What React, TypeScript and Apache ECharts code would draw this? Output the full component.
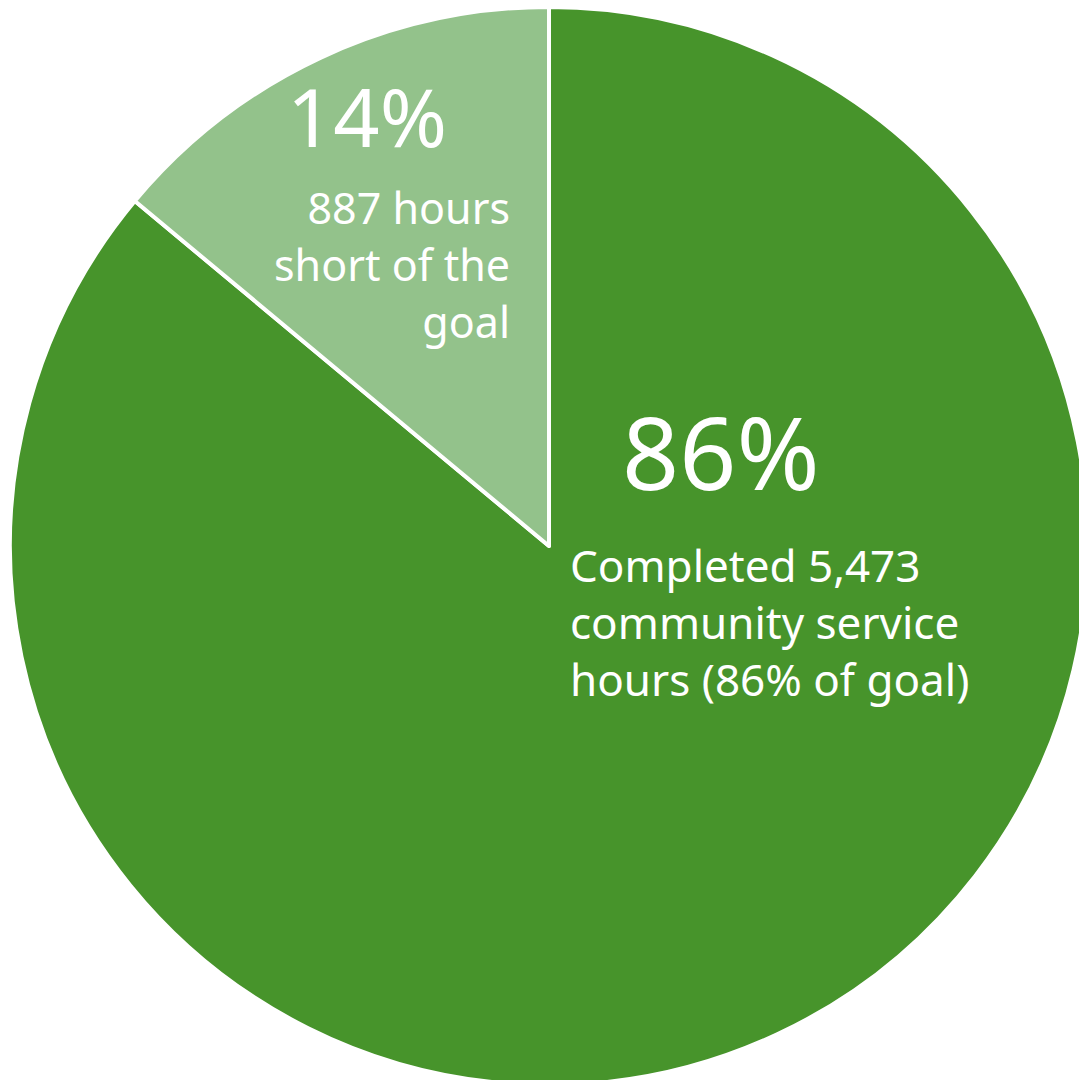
import React, { useEffect, useRef } from "react";
import * as echarts from "echarts";

const categories = ["Completed", "Short of goal"];
const hoursValues = [5473, 887];
const sliceColors = ["#47942B", "#93C28B"];

export default function App() {
  const ref = useRef<HTMLDivElement>(null);
  useEffect(() => {
    document.body.style.margin = "0";
    const chart = echarts.init(ref.current!, undefined, { renderer: "svg" });
    const total = hoursValues[0] + hoursValues[1];
    const pct = hoursValues.map((v) => Math.round((v / total) * 100));
    const fmt = (n: number) => n.toLocaleString("en-US");
    const font = "'Noto Sans', sans-serif";
    chart.setOption({
      animation: false,
      backgroundColor: "#ffffff",
      series: [
        {
          type: "pie",
          center: [549, 546],
          radius: [0, 539],
          startAngle: 90,
          clockwise: true,
          silent: true,
          z: 1,
          label: { show: false },
          labelLine: { show: false },
          itemStyle: { borderColor: "#ffffff", borderWidth: 4 },
          data: categories.map((c, i) => ({
            name: c,
            value: hoursValues[i],
            itemStyle: { color: sliceColors[i] },
          })),
        },
      ],
      graphic: {
        elements: [
          {
            type: "text",
            z: 100,
            x: 287,
            y: 75,
            style: {
              text: `${pct[1]}%`,
              fill: "#ffffff",
              font: `81px ${font}`,
              verticalAlign: "top",
            },
          },
          {
            type: "text",
            z: 100,
            x: 510,
            y: 179,
            style: {
              text: `${fmt(hoursValues[1])} hours\nshort of the\ngoal`,
              fill: "#ffffff",
              font: `43px ${font}`,
              lineHeight: 57,
              align: "right",
              verticalAlign: "top",
            },
          },
          {
            type: "text",
            z: 100,
            x: 622,
            y: 401,
            style: {
              text: `${pct[0]}%`,
              fill: "#ffffff",
              font: `100px ${font}`,
              verticalAlign: "top",
            },
          },
          {
            type: "text",
            z: 100,
            x: 570,
            y: 536,
            style: {
              text: `Completed ${fmt(hoursValues[0])}\ncommunity service\nhours (${pct[0]}% of goal)`,
              fill: "#ffffff",
              font: `44px ${font}`,
              lineHeight: 57,
              align: "left",
              verticalAlign: "top",
            },
          },
        ],
      },
    });
    return () => chart.dispose();
  }, []);
  return (
    <div
      ref={ref}
      style={{ position: "absolute", left: 0, top: 0, width: 1079, height: 1080 }}
    />
  );
}
